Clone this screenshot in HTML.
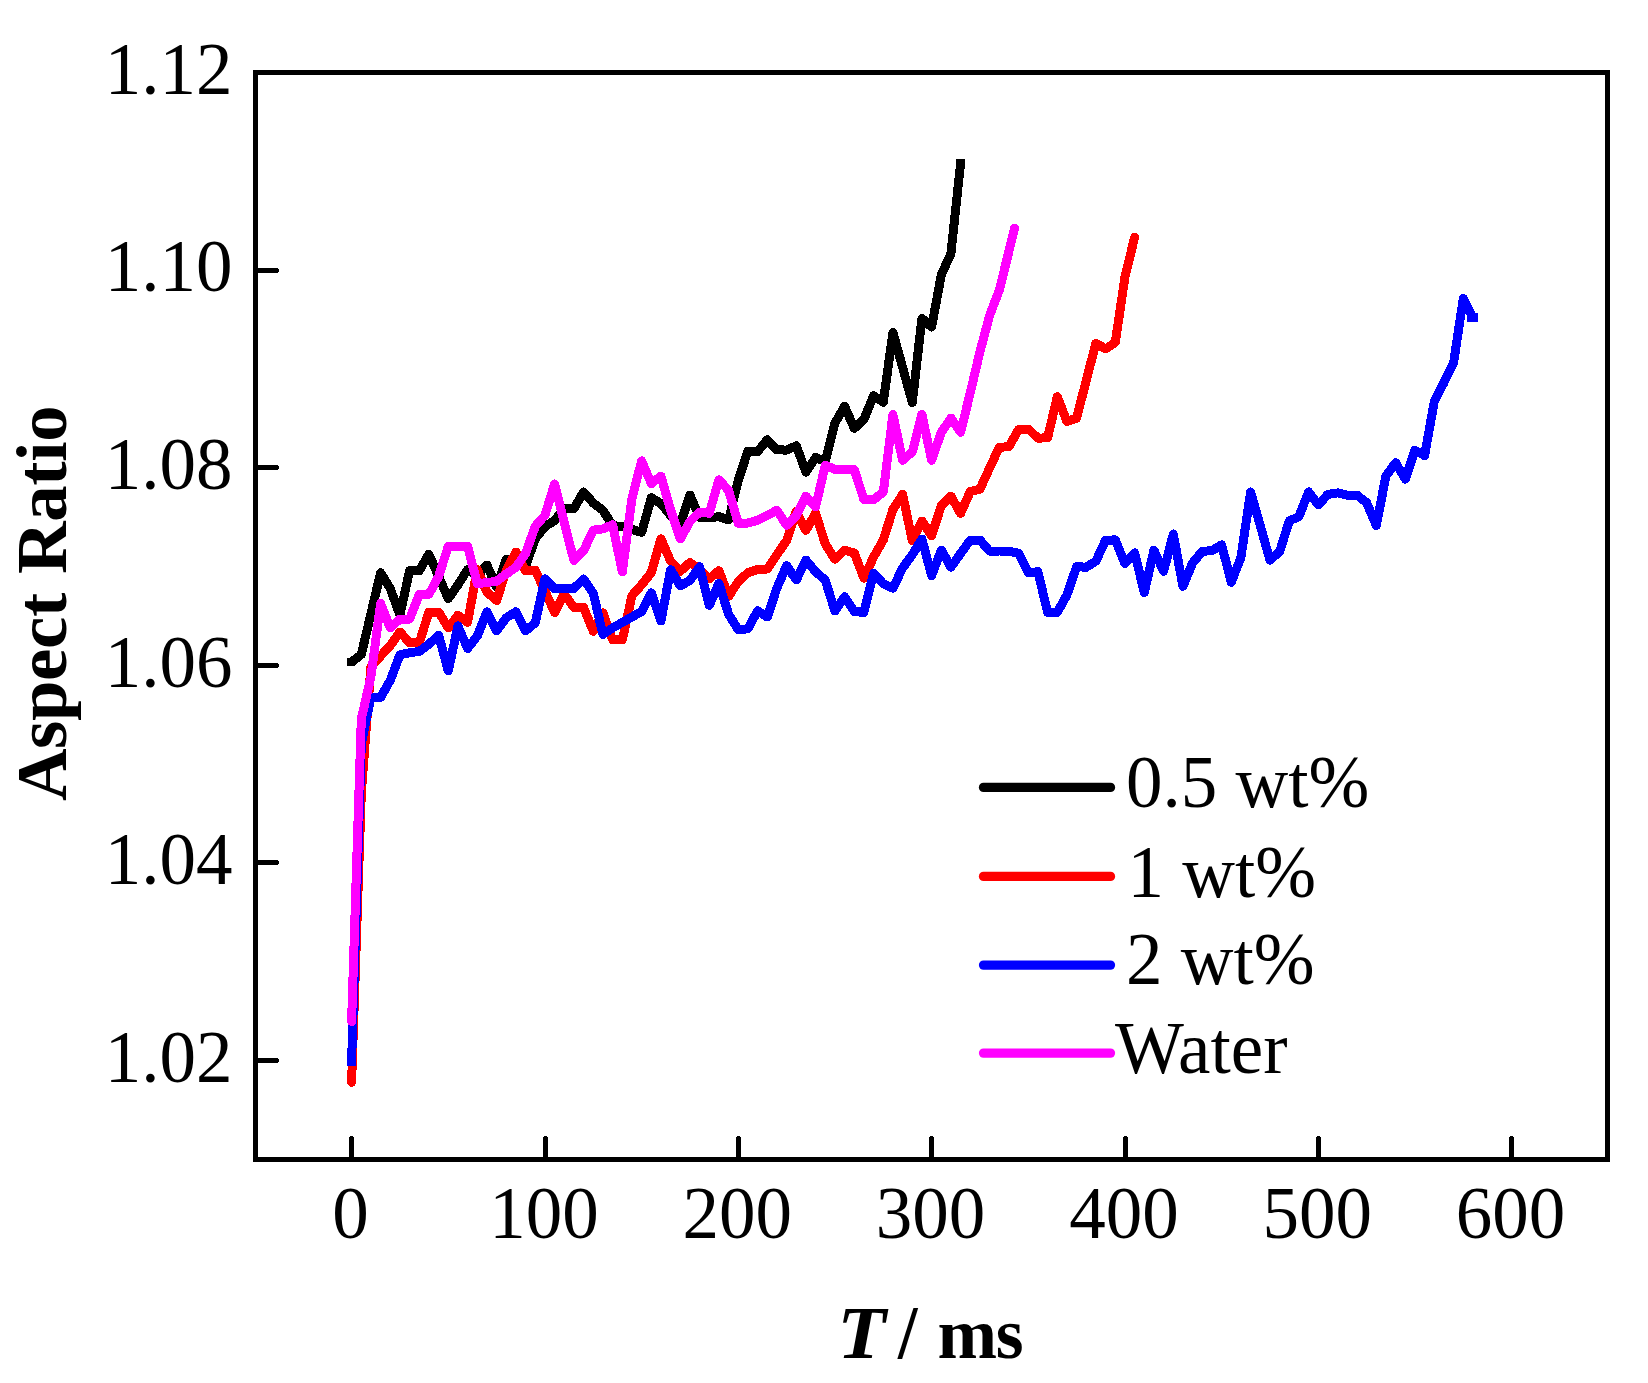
<!DOCTYPE html>
<html><head><meta charset="utf-8"><title>Aspect Ratio vs T</title>
<style>
html,body{margin:0;padding:0;background:#fff;}
body{width:1648px;height:1383px;overflow:hidden;}
svg{display:block;}
text{font-family:"Liberation Serif",serif;fill:#000;}
</style></head><body>
<svg width="1648" height="1383" viewBox="0 0 1648 1383">
<rect width="1648" height="1383" fill="#fff"/>

<g fill="none" shape-rendering="crispEdges" stroke-width="9" stroke-linejoin="round">
<path stroke="#000" stroke-linecap="butt" d="M351.6,662.1 L361.3,654.5 L370.9,614.0 L380.6,572.8 L390.3,588.6 L399.9,615.0 L409.6,570.6 L419.3,570.6 L428.9,554.2 L438.6,576.5 L448.3,598.5 L457.9,585.0 L467.6,569.5 L477.3,576.0 L486.9,565.0 L496.6,587.0 L506.3,559.0 L515.9,563.0 L525.6,565.9 L535.3,538.8 L544.9,526.7 L554.6,520.5 L564.3,508.5 L573.9,508.5 L583.6,492.0 L593.3,503.0 L602.9,510.3 L612.6,525.5 L622.3,526.7 L631.9,529.4 L641.6,532.4 L651.3,497.8 L660.9,503.6 L670.6,515.4 L680.3,524.3 L689.9,495.0 L699.6,517.3 L709.3,518.0 L718.9,516.6 L728.6,520.0 L738.3,480.2 L747.9,451.0 L757.6,451.6 L767.3,439.7 L776.9,449.8 L786.6,450.1 L796.3,445.8 L805.9,472.1 L815.6,457.5 L825.3,461.5 L834.9,423.1 L844.6,406.3 L854.3,428.3 L863.9,419.4 L873.6,395.6 L883.3,402.3 L892.9,332.4 L902.6,367.4 L912.3,402.5 L921.9,318.4 L931.6,327.1 L941.3,274.9 L950.9,253.6 L960.6,163.3"/>
<rect x="347" y="658" width="8" height="8" fill="#000" stroke="none"/>
<rect x="956" y="159" width="9" height="9" fill="#000" stroke="none"/>
<path stroke="#f00" stroke-linecap="round" d="M351.6,1082.3 L361.3,793.0 L370.9,667.0 L380.6,656.0 L390.3,645.6 L399.9,632.0 L409.6,642.7 L419.3,642.7 L428.9,612.0 L438.6,612.0 L448.3,627.9 L457.9,615.3 L467.6,622.2 L477.3,569.4 L486.9,592.2 L496.6,600.5 L506.3,570.4 L515.9,552.0 L525.6,570.7 L535.3,570.2 L544.9,590.9 L554.6,612.5 L564.3,594.0 L573.9,607.5 L583.6,607.5 L593.3,631.3 L602.9,612.9 L612.6,639.7 L622.3,640.0 L631.9,595.7 L641.6,584.8 L651.3,572.6 L660.9,538.8 L670.6,561.1 L680.3,571.2 L689.9,562.6 L699.6,569.0 L709.3,578.7 L718.9,570.7 L728.6,596.4 L738.3,581.4 L747.9,572.7 L757.6,569.5 L767.3,569.0 L776.9,554.7 L786.6,540.5 L796.3,511.4 L805.9,530.3 L815.6,513.2 L825.3,544.0 L834.9,559.2 L844.6,550.2 L854.3,553.0 L863.9,578.2 L873.6,557.0 L883.3,540.0 L892.9,509.5 L902.6,494.4 L912.3,540.7 L921.9,521.1 L931.6,535.6 L941.3,505.7 L950.9,496.2 L960.6,513.4 L970.3,491.4 L979.9,489.3 L989.6,468.0 L999.3,447.2 L1008.9,446.8 L1018.6,429.5 L1028.3,429.0 L1037.9,438.1 L1047.6,437.9 L1057.3,396.8 L1066.9,421.4 L1076.6,418.2 L1086.3,380.1 L1095.9,343.3 L1105.6,348.9 L1115.3,342.4 L1124.9,277.4 L1134.6,237.3"/>
<path stroke="#00f" stroke-linecap="butt" d="M351.6,1061.3 L361.3,743.5 L370.9,697.3 L380.6,697.3 L390.3,680.3 L399.9,654.8 L409.6,652.8 L419.3,651.4 L428.9,644.3 L438.6,635.2 L448.3,671.0 L457.9,625.9 L467.6,648.5 L477.3,636.0 L486.9,611.9 L496.6,630.9 L506.3,617.8 L515.9,611.7 L525.6,630.8 L535.3,622.8 L544.9,578.9 L554.6,588.7 L564.3,588.2 L573.9,588.4 L583.6,579.0 L593.3,593.3 L602.9,634.4 L612.6,627.9 L622.3,622.4 L631.9,617.0 L641.6,611.5 L651.3,592.9 L660.9,621.0 L670.6,569.7 L680.3,585.8 L689.9,580.5 L699.6,566.8 L709.3,605.3 L718.9,583.4 L728.6,614.2 L738.3,629.8 L747.9,628.8 L757.6,610.8 L767.3,617.0 L776.9,588.1 L786.6,565.7 L796.3,580.0 L805.9,560.0 L815.6,571.7 L825.3,580.2 L834.9,611.0 L844.6,596.8 L854.3,611.5 L863.9,612.4 L873.6,573.4 L883.3,583.8 L892.9,588.2 L902.6,568.0 L912.3,554.7 L921.9,539.0 L931.6,575.7 L941.3,550.0 L950.9,567.2 L960.6,553.5 L970.3,540.0 L979.9,540.0 L989.6,551.2 L999.3,551.0 L1008.9,551.3 L1018.6,553.3 L1028.3,572.7 L1037.9,571.7 L1047.6,612.4 L1057.3,612.4 L1066.9,595.0 L1076.6,566.7 L1086.3,567.2 L1095.9,561.1 L1105.6,540.2 L1115.3,539.9 L1124.9,563.6 L1134.6,552.8 L1144.3,592.5 L1153.9,550.2 L1163.6,571.2 L1173.3,534.0 L1182.9,586.4 L1192.6,563.0 L1202.3,551.4 L1211.9,550.6 L1221.6,544.9 L1231.3,582.2 L1240.9,557.5 L1250.6,492.0 L1260.3,525.7 L1269.9,560.1 L1279.6,551.8 L1289.3,520.9 L1298.9,516.6 L1308.6,491.9 L1318.3,504.8 L1327.9,494.4 L1337.6,492.9 L1347.3,495.1 L1356.9,495.1 L1366.6,502.6 L1376.3,525.5 L1385.9,476.1 L1395.6,462.7 L1405.3,479.1 L1414.9,450.2 L1424.6,455.6 L1434.3,401.5 L1443.9,382.7 L1453.6,362.6 L1463.3,298.4 L1472.9,317.3"/>
<rect x="347" y="1057" width="9" height="9" fill="#00f" stroke="none"/>
<rect x="1467" y="313" width="11" height="9" fill="#00f" stroke="none"/>
<path stroke="#f0f" stroke-linecap="round" d="M351.6,1021.5 L361.3,719.0 L370.9,677.0 L380.6,603.4 L390.3,627.9 L399.9,619.0 L409.6,619.0 L419.3,594.4 L428.9,594.4 L438.6,576.5 L448.3,546.3 L457.9,546.3 L467.6,546.3 L477.3,583.7 L486.9,582.5 L496.6,581.3 L506.3,574.0 L515.9,567.3 L525.6,553.5 L535.3,526.2 L544.9,515.4 L554.6,484.0 L564.3,522.6 L573.9,560.4 L583.6,550.7 L593.3,530.2 L602.9,528.9 L612.6,524.7 L622.3,572.0 L631.9,498.8 L641.6,460.9 L651.3,483.6 L660.9,476.1 L670.6,510.0 L680.3,539.0 L689.9,521.5 L699.6,512.2 L709.3,513.2 L718.9,479.8 L728.6,490.5 L738.3,523.3 L747.9,523.0 L757.6,520.3 L767.3,515.4 L776.9,510.2 L786.6,525.2 L796.3,515.4 L805.9,496.2 L815.6,506.7 L825.3,465.2 L834.9,469.5 L844.6,469.5 L854.3,469.7 L863.9,499.5 L873.6,499.7 L883.3,492.0 L892.9,414.6 L902.6,460.2 L912.3,451.9 L921.9,414.4 L931.6,460.2 L941.3,432.4 L950.9,418.1 L960.6,432.2 L970.3,392.6 L979.9,351.9 L989.6,315.6 L999.3,290.0 L1008.9,251.4 L1014.5,228.2"/>
</g>
<rect x="255.5" y="72.5" width="1352" height="1087" fill="none" stroke="#000" stroke-width="5"/>
<g fill="#000" shape-rendering="crispEdges">
<rect x="257" y="1058.0" width="21" height="5"/><rect x="278" y="1059.0" width="1" height="3"/>
<rect x="257" y="860.0" width="21" height="5"/><rect x="278" y="861.0" width="1" height="3"/>
<rect x="257" y="663.0" width="21" height="5"/><rect x="278" y="664.0" width="1" height="3"/>
<rect x="257" y="465.0" width="21" height="5"/><rect x="278" y="466.0" width="1" height="3"/>
<rect x="257" y="268.0" width="21" height="5"/><rect x="278" y="269.0" width="1" height="3"/>
<rect x="349" y="1137" width="5" height="21"/><rect x="350" y="1136" width="3" height="1"/>
<rect x="543" y="1137" width="5" height="21"/><rect x="544" y="1136" width="3" height="1"/>
<rect x="736" y="1137" width="5" height="21"/><rect x="737" y="1136" width="3" height="1"/>
<rect x="929" y="1137" width="5" height="21"/><rect x="930" y="1136" width="3" height="1"/>
<rect x="1123" y="1137" width="5" height="21"/><rect x="1124" y="1136" width="3" height="1"/>
<rect x="1316" y="1137" width="5" height="21"/><rect x="1317" y="1136" width="3" height="1"/>
<rect x="1509" y="1137" width="5" height="21"/><rect x="1510" y="1136" width="3" height="1"/>
</g>
<g font-size="73">
<text x="232.5" y="1081.7" text-anchor="end">1.02</text>
<text x="232.5" y="884.1" text-anchor="end">1.04</text>
<text x="232.5" y="686.5" text-anchor="end">1.06</text>
<text x="232.5" y="488.8" text-anchor="end">1.08</text>
<text x="232.5" y="291.2" text-anchor="end">1.10</text>
<text x="232.5" y="93.6" text-anchor="end">1.12</text>
<text x="350.6" y="1238.3" text-anchor="middle">0</text>
<text x="543.9" y="1238.3" text-anchor="middle">100</text>
<text x="737.3" y="1238.3" text-anchor="middle">200</text>
<text x="930.6" y="1238.3" text-anchor="middle">300</text>
<text x="1123.9" y="1238.3" text-anchor="middle">400</text>
<text x="1317.3" y="1238.3" text-anchor="middle">500</text>
<text x="1510.6" y="1238.3" text-anchor="middle">600</text>
<line x1="983.5" y1="787.4" x2="1110.5" y2="787.4" stroke="#000" stroke-width="9.3" stroke-linecap="round"/>
<text x="1126" y="807.3">0.5 wt%</text>
<line x1="983.5" y1="876.4" x2="1110.5" y2="876.4" stroke="#f00" stroke-width="9.3" stroke-linecap="round"/>
<text x="1127.5" y="896.7">1 wt%</text>
<line x1="983.5" y1="965.1" x2="1110.5" y2="965.1" stroke="#00f" stroke-width="9.3" stroke-linecap="round"/>
<text x="1126" y="983.9">2 wt%</text>
<line x1="983.5" y1="1053.1" x2="1110.5" y2="1053.1" stroke="#f0f" stroke-width="9.3" stroke-linecap="round"/>
<text x="1115" y="1073.1">Water</text>
</g>
<text font-size="72.8" font-weight="bold" transform="rotate(-90)" y="66.3"><tspan x="-801.1" letter-spacing="-0.4">Aspect </tspan><tspan x="-574.1" letter-spacing="-0.3">Ratio</tspan></text>
<text font-size="74.5" font-weight="bold" font-style="italic" transform="translate(837.2,1357.6) scale(1.068,1)">T</text>
<text font-size="75.5" font-weight="bold" transform="translate(898,1357.6) scale(0.93,1)"> / </text>
<text font-size="71.5" font-weight="bold" x="937.5" y="1357.6" letter-spacing="-1.2">ms</text>
</svg></body></html>
